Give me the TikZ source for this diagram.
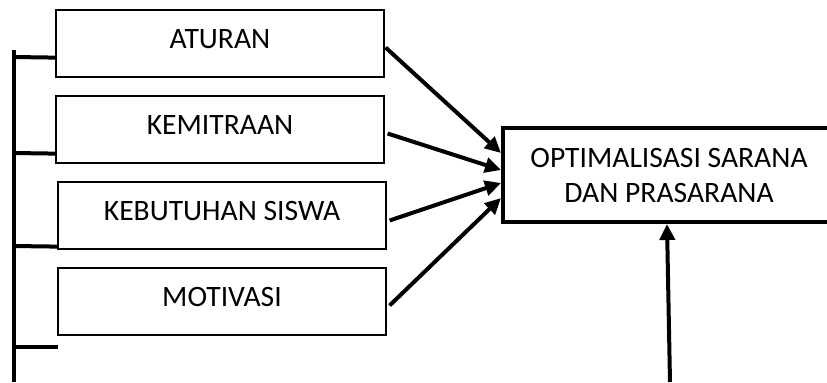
\documentclass[tikz,border=0pt]{standalone}
\usepackage{fontspec}
\setmainfont{Carlito}
\usetikzlibrary{arrows.meta,calc}

\begin{document}
\begin{tikzpicture}[x=0.5pt,y=-0.5pt,
    every node/.style={font=\fontsize{14.8}{17.5}\selectfont},
    faktor/.style={draw,line width=0.6pt,minimum width=164pt,minimum height=33.5pt,
        text height=9pt,text depth=4.5pt,inner sep=0pt},
    tujuan/.style={draw,line width=2pt,minimum width=166pt,minimum height=47pt,align=center},
    panah/.style={line width=2pt,-{Triangle[length=8pt,width=7.5pt]}},
    garis/.style={line width=2pt}]
    \useasboundingbox (0,0) rectangle (827,382);

    % Faktor-faktor
    \node[faktor] (aturan) at (220,43.5) {ATURAN};
    \node[faktor] (mitra) at (220,129.5) {KEMITRAAN};
    \node[faktor] (siswa) at (222,215.5) {KEBUTUHAN SISWA};
    \node[faktor] (motivasi) at (222,301.5) {MOTIVASI};

    % Tujuan
    \node[tujuan] (optimal) at (669,175) {OPTIMALISASI SARANA\\DAN PRASARANA};

    % Garis kiri
    \coordinate (atas) at (14,50);
    \coordinate (bawah) at (14,382);
    \draw[garis] (atas) -- (bawah);
    \draw[garis] (atas |- 0,57) -- ($(aturan.south west)+(0,-20)$);
    \draw[garis] (atas |- 0,153) -- ($(mitra.south west)+(0,-10)$);
    \draw[garis] (atas |- 0,246) -- ($(siswa.south west)+(0,-3)$);
    \coordinate (ujung) at (58,347);
    \draw[garis] (atas |- ujung) -- (ujung);

    % Panah ke tujuan
    \draw[panah] ($(aturan.east)+(1,4)$) -- ($(optimal.north west)+(0,27)$);
    \draw[panah] ($(mitra.east)+(3,4)$) -- ($(optimal.north west)+(0,44)$);
    \draw[panah] ($(siswa.east)+(3,5)$) -- ($(optimal.north west)+(0,57)$);
    \draw[panah] ($(motivasi.east)+(3,4)$) -- ($(optimal.north west)+(0,72)$);

    % Panah dari bawah
    \coordinate (dasar) at (670,382);
    \draw[panah] (dasar) -- ($(optimal.south)+(-2,0)$);
\end{tikzpicture}
\end{document}
